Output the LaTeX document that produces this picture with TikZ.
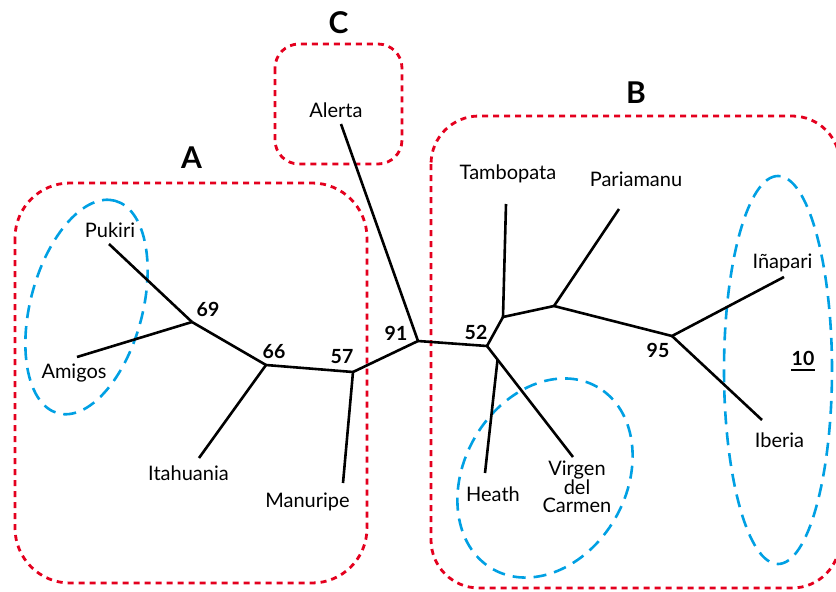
\documentclass[tikz,border=0pt]{standalone}
\usepackage{fontspec}
\setmainfont{Lato}
\usetikzlibrary{shapes.geometric}
\definecolor{grpred}{RGB}{228,0,30}
\definecolor{grpblue}{RGB}{0,160,227}
\begin{document}
\begin{tikzpicture}[x=1pt,y=-1pt,
  branch/.style={line width=2.6pt, line join=round},
  grpbox/.style={draw=grpred, line width=2.8pt, dash pattern=on 6pt off 5pt},
  subgrp/.style={draw=grpblue, line width=2.6pt, dash pattern=on 13pt off 8pt, ellipse, inner sep=0pt},
  lbl/.style={anchor=base, inner sep=0pt, font=\fontsize{20}{18.5}\selectfont},
  boot/.style={anchor=base, inner sep=0pt, font=\fontsize{19.5}{20}\selectfont\bfseries},
  grpletter/.style={anchor=base, inner sep=0pt, font=\fontsize{30}{32}\selectfont\bfseries}]
\useasboundingbox (0,0) rectangle (836,592);
\clip (0,0) rectangle (836,592);

% group boxes
\draw[grpbox, rounded corners=55pt] (15,183) rectangle (367,583);
\draw[grpbox, rounded corners=48pt] (431,116) rectangle (840,588);
\draw[grpbox, rounded corners=24pt] (275,44) rectangle (402,164);

% subgroup ellipses
\node[subgrp, minimum width=220pt, minimum height=112pt, rotate=75] (ellA) at (86.5,307) {};
\node[subgrp, minimum width=210pt, minimum height=162pt, rotate=60] (ellB) at (545,478) {};
\node[subgrp, minimum width=388pt, minimum height=108pt, rotate=90] (ellC) at (778,370) {};

% tree coordinates
\coordinate (pukiriE) at (109,244);
\coordinate (amigosE) at (77,357);
\coordinate (n69) at (192,322);
\coordinate (n66) at (266,365);
\coordinate (itaE) at (199,458);
\coordinate (n57) at (353,372);
\coordinate (manE) at (343,483);
\coordinate (n91) at (418,341);
\coordinate (alertaE) at (341,124);
\coordinate (n52) at (487,346);
\coordinate (nT) at (503,317);
\coordinate (tambE) at (506,204);
\coordinate (nP) at (554,306);
\coordinate (parE) at (619,209);
\coordinate (n95) at (672,336);
\coordinate (inaE) at (784,277);
\coordinate (ibeE) at (762,420);
\coordinate (virE) at (573,457);
\coordinate (hj) at (497.5,360);
\coordinate (heaE) at (485,473);

% branches
\draw[branch] (pukiriE) -- (n69);
\draw[branch] (amigosE) -- (n69);
\draw[branch] (n69) -- (n66);
\draw[branch] (itaE) -- (n66);
\draw[branch] (n66) -- (n57);
\draw[branch] (manE) -- (n57);
\draw[branch] (n57) -- (n91);
\draw[branch] (alertaE) -- (n91);
\draw[branch] (n91) -- (n52);
\draw[branch] (n52) -- (nT);
\draw[branch] (tambE) -- (nT);
\draw[branch] (nT) -- (nP);
\draw[branch] (parE) -- (nP);
\draw[branch] (nP) -- (n95);
\draw[branch] (inaE) -- (n95);
\draw[branch] (ibeE) -- (n95);
\draw[branch] (n52) -- (virE);
\draw[branch] (hj) -- (heaE);

% leaf labels
\node[lbl] (pukiri) at (110,237) {Pukiri};
\node[lbl] (amigos) at (74,378) {Amigos};
\node[lbl] (itahuania) at (188.5,480) {Itahuania};
\node[lbl] (manuripe) at (307.5,507) {Manuripe};
\node[lbl] (alerta) at (336,117) {Alerta};
\node[lbl] (tambopata) at (508,179) {Tambopata};
\node[lbl] (pariamanu) at (636,186) {Pariamanu};
\node[lbl] (inapari) at (782.5,268) {Iñapari};
\node[lbl] (iberia) at (779.5,447) {Iberia};
\node[lbl] (heath) at (493,501) {Heath};
\node[lbl, anchor=center, align=center] (virgen) at (577,487) {Virgen\\del\\Carmen};

% bootstrap values
\node[boot] (b69) at (208,316) {69};
\node[boot] (b66) at (274,358) {66};
\node[boot] (b57) at (342,363) {57};
\node[boot] (b91) at (396,340) {91};
\node[boot] (b52) at (476,339) {52};
\node[boot] (b95) at (658,357) {95};
\node[boot] (ten) at (803,365) {10};
\draw[line width=2.2pt] ([yshift=-5pt]ten.base west) -- ([yshift=-5pt]ten.base east);

% group letters
\node[grpletter] (gA) at (191.5,168) {A};
\node[grpletter] (gB) at (636,103) {B};
\node[grpletter] (gC) at (338.5,33) {C};
\end{tikzpicture}
\end{document}
